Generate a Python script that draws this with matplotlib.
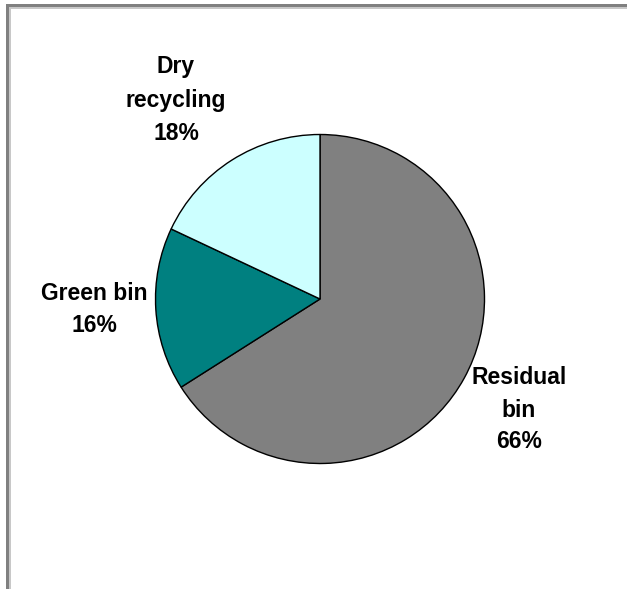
import matplotlib
matplotlib.use('Agg')
import matplotlib.pyplot as plt
from matplotlib.patches import Rectangle

# Data
categories = ['Residual bin', 'Green bin', 'Dry recycling']
shares = [66, 16, 18]
label_lines = [['Residual', 'bin', '66%'],
               ['Green bin', '16%'],
               ['Dry', 'recycling', '18%']]
colors = ['#808080', '#008080', '#CCFFFF']

# Layout (pixels, y measured from top)
W, H = 627, 589
center = (320, 299)
radius = 164.5
label_x = [519, 94, 176]
label_baselines = [[384, 417, 448], [300, 332], [73, 107, 140]]

fig = plt.figure(figsize=(W / 100, H / 100), dpi=100)
fig.patch.set_facecolor('white')
ax = fig.add_axes([0, 0, 1, 1])

ax.pie(shares, colors=colors, startangle=90, counterclock=False,
       radius=radius, center=(center[0], H - center[1]),
       wedgeprops=dict(edgecolor='black', linewidth=1.0))

ax.set_xlim(0, W)
ax.set_ylim(0, H)
ax.set_aspect('equal')
ax.axis('off')

for lines, x, bases in zip(label_lines, label_x, label_baselines):
    for line, b in zip(lines, bases):
        ax.text(x, H - b, line, ha='center', va='baseline', fontsize=16.5,
                fontweight='bold', family=['Liberation Sans', 'DejaVu Sans'],
                color='black')

# Window-style frame (top and left edges)
ax.add_patch(Rectangle((6, H - 7.3), W - 6, 3.3, color='#808080', lw=0))
ax.add_patch(Rectangle((9, H - 8.6), W - 9, 1.3, color='#c8c8c8', lw=0))
ax.add_patch(Rectangle((6, 0), 3, H - 4, color='#808080', lw=0))
ax.add_patch(Rectangle((9, 0), 1.5, H - 7.3, color='#c8c8c8', lw=0))

fig.savefig('out.png', dpi=100, facecolor='white')
